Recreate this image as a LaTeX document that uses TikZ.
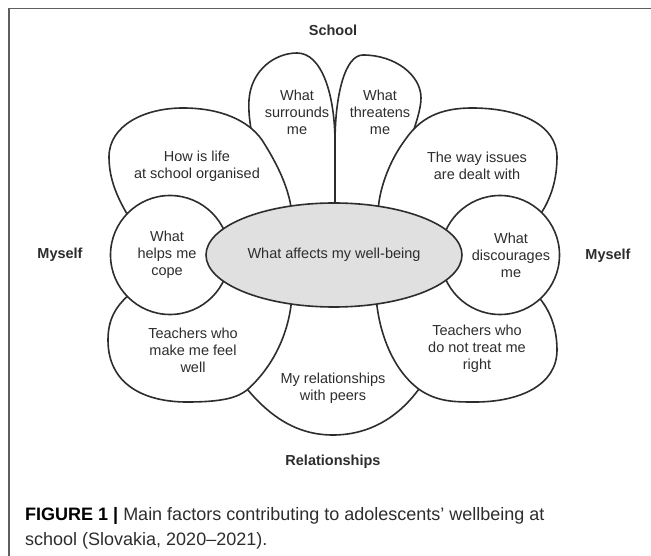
\documentclass[tikz,border=0pt]{standalone}
\usepackage{fontspec}
\setmainfont{Liberation Sans}
\usetikzlibrary{shapes.geometric}

\definecolor{hubgray}{RGB}{224,224,224}
\definecolor{inkgray}{RGB}{45,45,45}
\definecolor{framegray}{RGB}{95,95,95}
\tikzstyle{petal}=[draw=inkgray,line width=1.6pt,fill=white]
\tikzstyle{disc}=[draw=inkgray,line width=1.6pt,fill=white,circle,minimum size=119pt,inner sep=0pt]
\tikzstyle{hub}=[draw=inkgray,line width=1.6pt,fill=hubgray,ellipse,minimum width=256pt,minimum height=104pt,inner sep=0pt,font=\fontsize{14.5}{17}\selectfont,text=inkgray]
\tikzstyle{blurb}=[align=center,inner sep=0pt,font=\fontsize{14.5}{17}\selectfont,text=inkgray]
\tikzstyle{heading}=[anchor=base,inner sep=0pt,font=\fontsize{14.5}{17}\selectfont\bfseries,text=inkgray]
\tikzstyle{caption}=[anchor=base west,inner sep=0pt,font=\fontsize{18}{25}\selectfont,text=inkgray]

\begin{document}
\begin{tikzpicture}[x=1pt,y=-1pt]
    \useasboundingbox (0,0) rectangle (651,556);
    \draw[framegray,line width=1.8pt] (9,556) -- (9,8.5) -- (651,8.5);
    % First the petals that sit behind the others
    \draw[petal] (282,220) .. controls (262,180) and (247,130) .. (249,100)
        .. controls (251,70) and (275,53) .. (297,53)
        .. controls (322,53) and (335,95) .. (335,143) -- (335,220) -- cycle;
    \draw[petal] (335,220) -- (335,143) .. controls (335,95) and (345,55) .. (363,55)
        .. controls (395,55) and (421,75) .. (421,98)
        .. controls (421,120) and (400,160) .. (385,220) -- cycle;
    \draw[petal] (240,380) .. controls (270,420) and (300,435) .. (333,435)
        .. controls (366,435) and (400,420) .. (425,380)
        -- (385,300) -- (334,280) -- (285,300) -- cycle;
    % Then the four corner petals
    \draw[petal] (132,222) .. controls (118,200) and (109,180) .. (109,157)
        .. controls (109,125) and (145,108) .. (183,108)
        .. controls (220,108) and (248,120) .. (262,140)
        .. controls (278,165) and (290,190) .. (292,215) -- (292,250) -- (170,255) -- cycle;
    \draw[petal] (378,215) .. controls (378,190) and (390,160) .. (405,140)
        .. controls (420,118) and (440,108) .. (472,108)
        .. controls (520,108) and (557,125) .. (557,157)
        .. controls (557,185) and (548,205) .. (535,222) -- (500,255) -- (378,250) -- cycle;
    \draw[petal] (135,290) .. controls (115,305) and (108,320) .. (108,340)
        .. controls (108,385) and (145,402) .. (187,402)
        .. controls (225,402) and (238,397) .. (247,390)
        .. controls (275,365) and (290,330) .. (292,295) -- (292,260) -- (170,255) -- cycle;
    \draw[petal] (376,295) .. controls (378,330) and (392,370) .. (420,390)
        .. controls (438,402) and (455,402) .. (475,402)
        .. controls (520,402) and (557,385) .. (557,350)
        .. controls (557,325) and (548,305) .. (532,290) -- (500,255) -- (376,260) -- cycle;
    % Side circles and the centre
    \node[disc] (helps) at (170,255) {};
    \node[disc] (discourages) at (500,255) {};
    \node[hub] (core) at (334,255) {What affects my well-being};
    % Texts in the petals
    \foreach \pos/\name/\words in {{(197,166)/life/{How is life\\at school organised}},
        {(297,112)/surrounds/{What\\surrounds\\me}}, {(380,112)/threatens/{What\\threatens\\me}},
        {(477,166)/issues/{The way issues\\are dealt with}}, {(167,255)/cope/{What\\helps me\\cope}},
        {(511,255)/discourage/{What\\discourages\\me}}, {(193,350)/feelwell/{Teachers who\\make me feel\\well}},
        {(333,388)/peers/{My relationships\\with peers}}, {(477,349)/treat/{Teachers who\\do not treat me\\right}}}
        \node[blurb] (\name) at \pos {\words};
    % Headings round the flower
    \foreach \pos/\name/\words in {{(333,36)/school/School}, {(60,259)/myselfL/Myself},
        {(608,260)/myselfR/Myself}, {(333,465)/relations/Relationships}}
        \node[heading] (\name) at \pos {\words};
    \node[caption] (capA) at (25,520) {\textcolor{black}{\bfseries FIGURE 1 |} Main factors contributing to adolescents’ wellbeing at};
    \node[caption] (capB) at (25,545) {school (Slovakia, 2020–2021).};
\end{tikzpicture}
\end{document}
